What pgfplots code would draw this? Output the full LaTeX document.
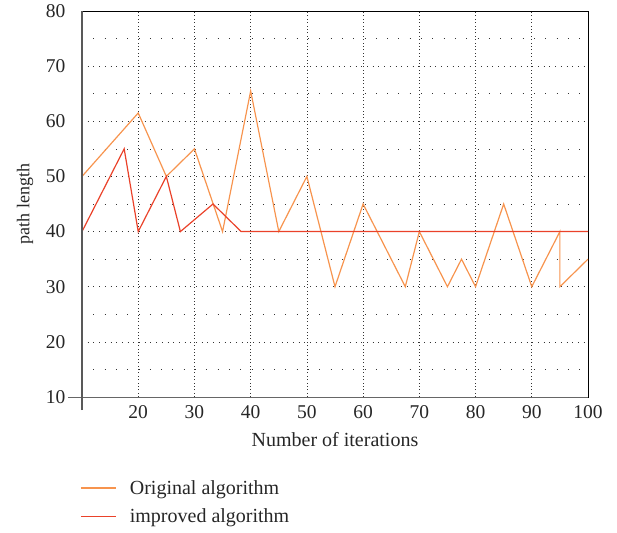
\documentclass[border=0pt]{standalone}
\usepackage{pgfplots}
\pgfplotsset{compat=1.18}
\usepackage{fontspec}
\setmainfont{Liberation Serif}
\definecolor{origc}{RGB}{247,148,78}
\definecolor{imprc}{RGB}{234,66,42}
\begin{document}
\begin{tikzpicture}
\begin{axis}[
  name=ax,
  scale only axis,
  width=506pt, height=386pt,
  xmin=10, xmax=100, ymin=10, ymax=80,
  xtick={20,30,...,100},
  ytick={10,20,...,80},
  minor ytick={15,25,...,75},
  tick style={draw=none},
  axis line style={black, line width=0.7pt},
  xmajorgrids, ymajorgrids, yminorgrids,
  x grid style={black!80, line width=0.7pt, dash pattern=on 0.8pt off 2.6pt},
  y grid style={black!80, line width=0.7pt, dash pattern=on 0.8pt off 4.9pt},
  minor y grid style={black!80, line width=0.7pt, dash pattern=on 0.8pt off 10.5pt},
  /pgf/number format/assume math mode=true,
  tick label style={font=\fontsize{19.5}{22}\selectfont, text=black!85},
  yticklabel style={xshift=-13pt},
  xticklabel style={yshift=-5pt},
  xlabel={Number of iterations},
  ylabel={path length},
  xlabel style={at={(axis description cs:0.5,0)}, anchor=center, yshift=-43pt, font=\fontsize{20}{23}\selectfont, text=black!85},
  ylabel style={at={(axis description cs:0,0.5)}, anchor=center, yshift=57pt, font=\fontsize{18}{20}\selectfont, text=black!85},
  legend style={at={(axis description cs:0,0)}, anchor=north west, xshift=-5pt, yshift=-79pt, draw=none, fill=none,
    font=\fontsize{20}{23}\selectfont, text=black!85, cells={anchor=west}, row sep=9pt},
  legend image code/.code={\draw[#1, line width=1.3pt] (0pt,0pt) -- (35pt,0pt); \path[draw=none] (0pt,0pt) -- (47pt,0pt);},
]
\addplot[origc, line width=1.2pt] coordinates {
(10,50) (20,61.5) (25,50) (30,55) (35,40) (40,65.5) (45,40) (50,50) (55,30) (60,45)
(67.5,30) (70,40) (75,30) (77.5,35) (80,30) (85,45) (90,30) (95,40) (95,30) (100,35)
};
\addlegendentry{Original algorithm}
\addplot[imprc, line width=1.2pt] coordinates {
(10,40) (17.5,55) (20,40) (25,50) (27.5,40) (33.3,45) (38.3,40) (100,40)
};
\addlegendentry{improved algorithm}
\end{axis}
\draw[black!60, line width=1pt] (ax.south west) ++(-14pt,0) -- (ax.south east);
\draw[black!65, line width=1.7pt] (ax.south west) ++(0,-13pt) -- (ax.north west);
\path (ax.south west) ++(-82pt,-135pt);
\path (ax.north east) ++(29pt,11pt);
\end{tikzpicture}
\end{document}
